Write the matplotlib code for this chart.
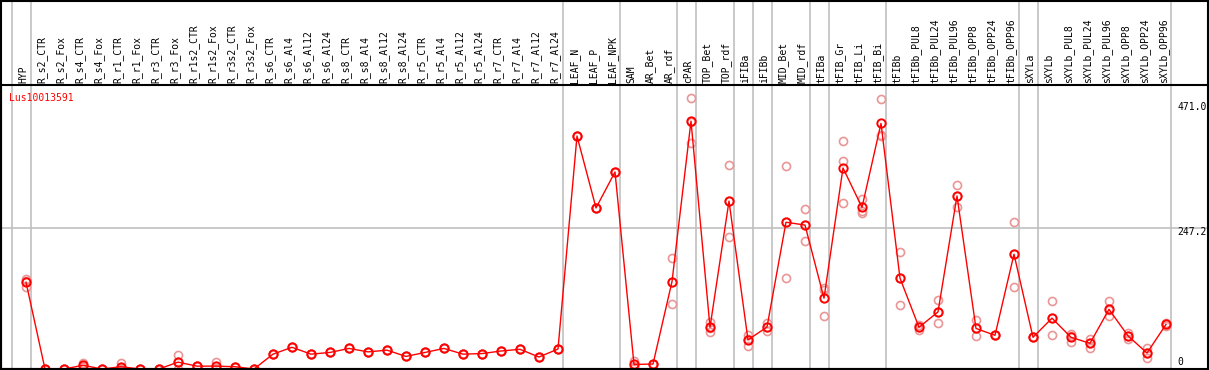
import numpy as np
import matplotlib
matplotlib.use("Agg")
import matplotlib.pyplot as plt
import matplotlib.transforms as mtrans

samples = ["HYP",
           "R_s2_CTR", "R_s2_Fox", "R_s4_CTR", "R_s4_Fox", "R_r1_CTR", "R_r1_Fox",
           "R_r3_CTR", "R_r3_Fox", "R_r1s2_CTR", "R_r1s2_Fox", "R_r3s2_CTR", "R_r3s2_Fox",
           "R_s6_CTR", "R_s6_Al4", "R_s6_Al12", "R_s6_Al24",
           "R_s8_CTR", "R_s8_Al4", "R_s8_Al12", "R_s8_Al24",
           "R_r5_CTR", "R_r5_Al4", "R_r5_Al12", "R_r5_Al24",
           "R_r7_CTR", "R_r7_Al4", "R_r7_Al12", "R_r7_Al24",
           "LEAF_N", "LEAF_P", "LEAF_NPK", "SAM", "AR_Bet", "AR_rdf", "cPAR",
           "TOP_Bet", "TOP_rdf", "iFIBa", "iFIBb", "MID_Bet", "MID_rdf",
           "tFIBa", "tFIB_Gr", "tFIB_Li", "tFIB_Bi",
           "tFIBb", "tFIBb_PUL8", "tFIBb_PUL24", "tFIBb_PUL96",
           "tFIBb_OPP8", "tFIBb_OPP24", "tFIBb_OPP96",
           "sXYLa", "sXYLb", "sXYLb_PUL8", "sXYLb_PUL24", "sXYLb_PUL96",
           "sXYLb_OPP8", "sXYLb_OPP24", "sXYLb_OPP96"]

# mean expression per sample
means = [152, 0, 0, 6.5, 0, 4, 0, 0, 12, 5, 5, 4, 0,
         26, 38, 26, 29, 36, 30, 33, 22, 29, 36, 26, 27, 31.5, 34.5, 21, 35,
         408, 282, 345, 8, 8.7, 153, 434,
         73, 294, 51, 73.5, 257, 252,
         124, 352, 283, 430,
         159, 73, 100, 303, 71, 59, 201,
         55.5, 89, 55.5, 45, 104.5, 58, 28, 78]

# replicate values (3 per sample)
reps = [[158, 144, 154], [0, 0, 0], [0, 0, 0], [11, 4, 5], [0, 0, 0],
        [11, 1, 0], [0, 0, 0], [0, 0, 0], [24, 12, 0], [5, 5, 5],
        [12, 2, 1], [4, 4, 4], [0, 0, 0],
        [26, 26, 26], [38, 38, 38], [26, 26, 26], [29, 29, 29],
        [36, 36, 36], [30, 30, 30], [33, 33, 33], [22, 22, 22],
        [29, 29, 29], [36, 36, 36], [26, 26, 26], [27, 27, 27],
        [31.5, 31.5, 31.5], [34.5, 34.5, 34.5], [21, 21, 21], [35, 35, 35],
        [408, 408, 408], [282, 282, 282], [345, 345, 345],
        [14.5, 4, 6], [8.7, 8.7, 8.7], [194, 113, 153], [474, 395, 433],
        [83, 65, 71], [357, 231, 294], [59.5, 41, 52], [80, 67, 73.5],
        [355, 159, 257], [280, 224, 252],
        [141, 138, 92], [399, 364, 290], [297, 277, 273], [473, 410, 408],
        [205, 112, 159], [77, 68, 74], [121, 80, 100], [323, 283, 303],
        [86, 57, 71], [59, 59, 59], [257, 143, 201],
        [55.5, 55.5, 55.5], [119, 59, 89], [61, 48, 57], [53, 37, 45],
        [119, 92, 103], [63.6, 52, 58], [37, 18.7, 28], [80, 76, 78]]

# indices after which a grey separator is drawn
group_ends = [-1, 0, 28, 31, 34, 35, 37, 38, 39, 41, 42, 45, 52, 53, 60]

gene = "Lus10013591"
ymax_label = 471.0
ymid_label = 247.2

W, H = 1209, 370
fig = plt.figure(figsize=(W / 100, H / 100), dpi=100)
fig.patch.set_facecolor("white")

# data area in pixels: x 1..1170, y 85..369
ax = fig.add_axes([1 / W, 1 - 369 / H, 1169 / W, 284 / H])
n = len(samples)
x = np.arange(n)
step = 19.0
ax.set_xlim(-25 / step, (1170 - 26) / step)
ax.set_ylim(0, ymax_label * 284 / 269)
ax.set_xticks([])
ax.set_yticks([])
for s in ["top", "right"]:
    ax.spines[s].set_visible(False)
for s in ["left", "bottom"]:
    ax.spines[s].set_color("black")
    ax.spines[s].set_linewidth(1.5)

mono = "DejaVu Sans Mono"
grey = "#c0c0c0"
fs = 7

# separators across the whole height
top_frac = 369 / 284
for g in group_ends:
    ax.axvline(g + 0.25, ymin=0, ymax=top_frac, color=grey, lw=1.2, clip_on=False, zorder=0)
ax.axhline(ymid_label, xmin=0, xmax=(W - 1) / 1169, color=grey, lw=1.2, clip_on=False, zorder=0)

# frame lines
fig.add_artist(plt.Line2D([0, 1], [1 - 0.5 / H, 1 - 0.5 / H], color="black", lw=1.5))
fig.add_artist(plt.Line2D([0, 1], [1 - 85 / H, 1 - 85 / H], color="black", lw=1.5))
fig.add_artist(plt.Line2D([0, 1], [1 - 369 / H, 1 - 369 / H], color="black", lw=1.5))
fig.add_artist(plt.Line2D([1 - 1 / W, 1 - 1 / W], [0, 1], color="black", lw=1.5))
fig.add_artist(plt.Line2D([1 / W, 1 / W], [0, 1], color="black", lw=1.5))

# replicates
for i, r in enumerate(reps):
    ax.plot([i] * len(r), r, linestyle="none", marker="o", markersize=5.8,
            markerfacecolor="none", markeredgecolor="#eb9696", markeredgewidth=1.2,
            clip_on=False, zorder=2)

# means
ax.plot(x, means, color="red", lw=1, marker="o", markersize=6,
        markerfacecolor="none", markeredgecolor="red", markeredgewidth=1.4,
        clip_on=False, zorder=3)

# column labels
trans = mtrans.blended_transform_factory(ax.transData, fig.transFigure)
for i, name in enumerate(samples):
    ax.text(i - 0.15, 1 - 83 / H, name, transform=trans, rotation=90,
            ha="center", va="bottom", fontsize=fs, family=mono, color="black")

ax.text(9 / W, 1 - 98 / H, gene, transform=fig.transFigure, ha="left", va="center",
        fontsize=fs, family=mono, color="red")

# y labels at right
fig.text(1177 / W, 1 - 107 / H, f"{ymax_label:.1f}", ha="left", va="center",
         fontsize=fs, family=mono)
fig.text(1177 / W, 1 - 232 / H, f"{ymid_label:.1f}", ha="left", va="center",
         fontsize=fs, family=mono)
fig.text(1177 / W, 1 - 362 / H, "0", ha="left", va="center",
         fontsize=fs, family=mono)

fig.savefig("out.png", dpi=100)
